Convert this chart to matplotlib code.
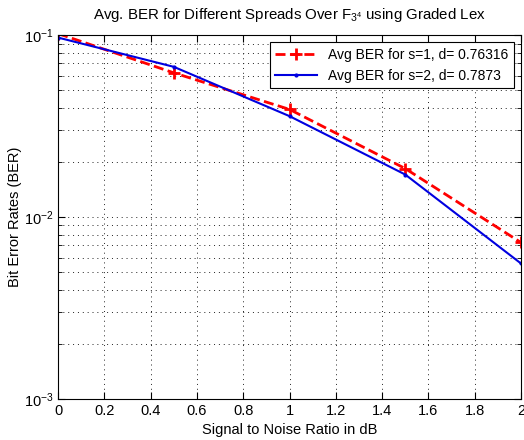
import numpy as np
import matplotlib
matplotlib.use('Agg')
import matplotlib.pyplot as plt
from matplotlib.ticker import LogLocator, NullFormatter

plt.rcParams['font.family'] = ['Liberation Sans', 'DejaVu Sans']
plt.rcParams['mathtext.fontset'] = 'custom'
plt.rcParams['mathtext.rm'] = 'Liberation Sans'
plt.rcParams['mathtext.it'] = 'Liberation Sans'

snr = [0, 0.5, 1, 1.5, 2]
ber_s1 = [0.102, 0.0621, 0.0391, 0.0185, 0.00726]
ber_s2 = [0.097, 0.067, 0.0359, 0.01715, 0.00557]
label_s1 = 'Avg BER for s=1, d= 0.76316'
label_s2 = 'Avg BER for s=2, d= 0.7873'

fig = plt.figure(figsize=(5.24, 4.4), dpi=100)
ax = fig.add_axes([0.111, 0.093, 0.883, 0.827])

ax.semilogy(snr, ber_s1, color='red', linestyle='--', linewidth=2, marker='+',
            markersize=8, markeredgewidth=2, label=label_s1, dashes=(3.6, 1.6))
ax.semilogy(snr, ber_s2, color='#0000e0', linestyle='-', linewidth=1.5, marker='.',
            markersize=4, label=label_s2)

ax.set_xlim(0, 2)
ax.set_ylim(1e-3, 1e-1)
ax.set_xticks(np.arange(0, 2.01, 0.2))
ax.set_xticklabels(['0', '0.2', '0.4', '0.6', '0.8', '1', '1.2', '1.4', '1.6', '1.8', '2'])
ax.yaxis.set_minor_locator(LogLocator(base=10, subs=np.arange(2, 10)))
ax.yaxis.set_minor_formatter(NullFormatter())

ax.grid(True, which='major', linestyle=(0, (1, 4)), color='#222222', linewidth=0.7)
ax.grid(True, which='minor', axis='y', linestyle=(0, (1, 4)), color='#222222', linewidth=0.7)
ax.tick_params(which='both', direction='in', top=True, right=True, labelsize=10.5)
ax.tick_params(which='major', length=5)
ax.tick_params(which='minor', length=3)

ax.set_xlabel('Signal to Noise Ratio in dB', fontsize=10.5)
ax.set_ylabel('Bit Error Rates (BER)', fontsize=10.5, labelpad=1)
ax.set_title(r'Avg. BER for Different Spreads Over F$_{3^4}$ using Graded Lex', fontsize=10.8, pad=12)

leg = ax.legend(loc='upper right', fontsize=10, fancybox=False, framealpha=1,
                edgecolor='black', borderaxespad=0.5, handlelength=3)
leg.get_frame().set_linewidth(0.8)

fig.savefig('out.png', dpi=100)
